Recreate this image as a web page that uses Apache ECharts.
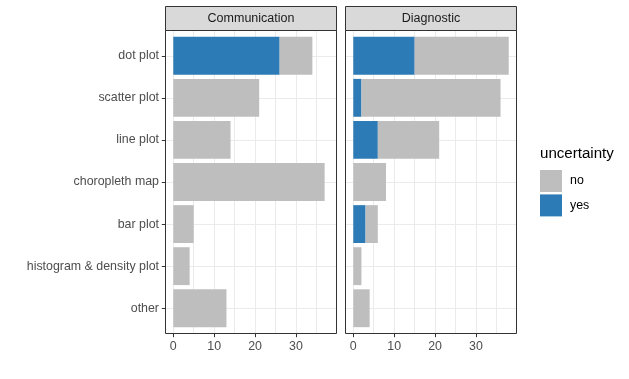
<!DOCTYPE html>
<html>
<head>
<meta charset="utf-8">
<script src="https://cdn.jsdelivr.net/npm/echarts@6/dist/echarts.min.js"></script>
<style>
  html, body { margin: 0; padding: 0; background: #fff; }
  #chart { width: 629px; height: 379px; }
</style>
</head>
<body>
<div id="chart"></div>
<script>
// data
const categories = ['dot plot', 'scatter plot', 'line plot', 'choropleth map', 'bar plot', 'histogram & density plot', 'other'];
const panels = ['Communication', 'Diagnostic'];
const commYes = [26, 0, 0, 0, 0, 0, 0];
const commNo = [8, 21, 14, 37, 5, 4, 13];
const diagYes = [15, 2, 6, 0, 3, 0, 0];
const diagNo = [23, 34, 15, 8, 3, 2, 4];
const xTicks = [0, 10, 20, 30];
const xMin = -1.9;
const xMax = 39.9;

const font = 'Liberation Sans, Arial, Helvetica, sans-serif';
const colorNo = '#BEBEBE';
const colorYes = '#2C7BB6';
const gridColor = '#EBEBEB';
const axisFont = 12.4;

// panel geometry (ggplot-like facets)
const panelLefts = [165.5, 345.5];
const panelW = 171;
const panelTop = 30.5;
const panelH = 303;
const stripH = 24;
const unit = panelH / 7.2;            // category spacing with 0.6 expansion
const scale = panelW / (xMax - xMin);

const chart = echarts.init(document.getElementById('chart'), null, { renderer: 'canvas' });

const grids = [];
const xAxes = [];
const yAxes = [];
const series = [];
const graphics = [];
const yesData = [commYes, diagYes];
const noData = [commNo, diagNo];

panels.forEach(function (name, p) {
  const L = panelLefts[p];
  const base = p * 3;

  // grid 0: vertical grid lines + x labels
  grids.push({ left: L - xMin * scale, top: panelTop, width: 40 * scale, height: panelH });
  xAxes.push({
    type: 'value', gridIndex: base, min: 0, max: 40, interval: 10,
    axisLine: { show: false },
    axisTick: { show: true, length: 3.7, customValues: xTicks, lineStyle: { color: '#333333' } },
    axisLabel: { show: true, customValues: xTicks, margin: 7, fontSize: axisFont, color: '#4D4D4D', fontFamily: font },
    splitLine: { show: true, lineStyle: { color: gridColor, width: 1 } },
    minorTick: { show: false, splitNumber: 2 },
    minorSplitLine: { show: true, lineStyle: { color: gridColor, width: 1 } }
  });
  yAxes.push({ type: 'value', gridIndex: base, show: false });

  // grid 1: horizontal grid lines at category centres + y labels
  grids.push({ left: L, top: panelTop + 0.6 * unit, width: panelW, height: 6 * unit });
  xAxes.push({ type: 'value', gridIndex: base + 1, show: false });
  yAxes.push({
    type: 'category', gridIndex: base + 1, data: categories, inverse: true, boundaryGap: false,
    axisLine: { show: false },
    axisTick: { show: p === 0, length: 3.7, interval: 0, lineStyle: { color: '#333333' } },
    axisLabel: { show: p === 0, interval: 0, margin: 6.5, fontSize: axisFont, color: '#4D4D4D', fontFamily: font },
    splitLine: { show: true, interval: 0, lineStyle: { color: gridColor, width: 1 } }
  });

  // grid 2: bars
  grids.push({ left: L, top: panelTop + 0.1 * unit, width: panelW, height: 7 * unit });
  xAxes.push({ type: 'value', gridIndex: base + 2, min: xMin, max: xMax, show: false });
  yAxes.push({ type: 'category', gridIndex: base + 2, data: categories, inverse: true, show: false });

  series.push({
    name: 'yes', type: 'bar', stack: 'p' + p, xAxisIndex: base + 2, yAxisIndex: base + 2,
    barWidth: '90%', data: yesData[p], itemStyle: { color: colorYes }
  });
  series.push({
    name: 'no', type: 'bar', stack: 'p' + p, xAxisIndex: base + 2, yAxisIndex: base + 2,
    barWidth: '90%', data: noData[p], itemStyle: { color: colorNo }
  });

  // strip and panel border
  graphics.push({
    type: 'rect', z: 10,
    shape: { x: L, y: panelTop - stripH, width: panelW, height: stripH },
    style: { fill: '#D9D9D9', stroke: '#333333', lineWidth: 1 }
  });
  graphics.push({
    type: 'text', z: 11, x: L + panelW / 2, y: panelTop - stripH / 2,
    style: { text: name, fill: '#1A1A1A', font: '12.5px ' + font, align: 'center', verticalAlign: 'middle' }
  });
  graphics.push({
    type: 'rect', z: 10,
    shape: { x: L, y: panelTop, width: panelW, height: panelH },
    style: { fill: 'none', stroke: '#333333', lineWidth: 1 }
  });
});

const option = {
  animation: false,
  backgroundColor: '#ffffff',
  title: {
    text: 'uncertainty', left: 540, top: 146, padding: 0,
    textStyle: { fontSize: 15.1, fontWeight: 'normal', color: '#000000', fontFamily: font }
  },
  legend: {
    data: ['no', 'yes'], orient: 'vertical', left: 540, top: 170, padding: 0,
    icon: 'rect', itemWidth: 22, itemHeight: 22, itemGap: 2.4, selectedMode: false,
    textStyle: { fontSize: axisFont, color: '#000000', fontFamily: font, padding: [0, 0, 0, 3] }
  },
  grid: grids,
  xAxis: xAxes,
  yAxis: yAxes,
  series: series,
  graphic: graphics
};

chart.setOption(option);
</script>
</body>
</html>
